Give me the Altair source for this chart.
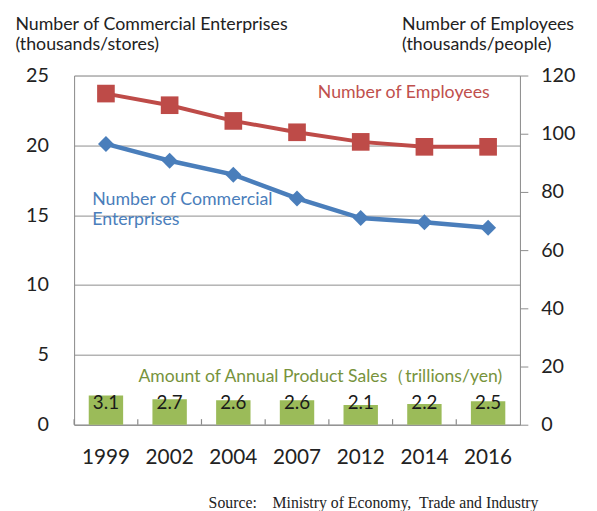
import altair as alt
import pandas as pd

years = ["1999", "2002", "2004", "2007", "2012", "2014", "2016"]
enterprises = [20.1, 18.9, 17.9, 16.2, 14.8, 14.5, 14.1]
employees = [113.8, 109.8, 104.4, 100.5, 97.2, 95.5, 95.5]
sales = [3.1, 2.7, 2.6, 2.6, 2.1, 2.2, 2.5]

left_ticks = [0, 5, 10, 15, 20, 25]
right_ticks = [0, 20, 40, 60, 80, 100, 120]

df = pd.DataFrame({"year": years, "ent": enterprises, "emp": employees, "sales": sales})

FONT = "Lato"
GRAY = "#8c8c8c"
BLUE = "#4a7ebb"
RED = "#be4b48"
GREEN = "#9bbb59"
W = 452
PAD_IN = 0.46
PAD_OUT = 0.23

xenc = alt.X("year:N", sort=years, title=None,
             scale=alt.Scale(paddingInner=PAD_IN, paddingOuter=PAD_OUT),
             axis=alt.Axis(labelAngle=0, ticks=False, domainColor=GRAY, labelFontSize=21,
                           labelFont=FONT, labelColor="#222", labelPadding=22, grid=False))

base = alt.Chart(df)
one = pd.DataFrame({"t": [0]})

# Left scale layer (enterprises)
left_axis = alt.Axis(values=left_ticks, grid=True, gridColor=GRAY, ticks=False,
                     domainColor=GRAY, labelFontSize=20, labelFont=FONT, labelColor="#222",
                     labelPadding=26,
                     title=["Number of Commercial Enterprises", "(thousands/stores)"],
                     titleAngle=0, titleAlign="left", titleBaseline="alphabetic",
                     titleX=-60, titleY=-47, titleFont=FONT, titleFontSize=18,
                     titleFontWeight="normal", titleColor="#222", titleLineHeight=21)
left_scale = alt.Scale(domain=[0, 25], nice=False)

blue_line = base.mark_line(color=BLUE, strokeWidth=4.5).encode(
    x=xenc, y=alt.Y("ent:Q", scale=left_scale, axis=left_axis))
blue_pts = base.mark_point(shape="diamond", filled=True, opacity=1, color=BLUE, size=260).encode(
    x=xenc, y=alt.Y("ent:Q", scale=left_scale, axis=left_axis))
# category-boundary tick marks (Excel style, pointing up from the axis)
step = W / len(years)
ticks = base.mark_rule(color="#8a8a8a", strokeWidth=1.2, xOffset=-PAD_OUT * step).encode(
    x=alt.X("year:N", sort=years, bandPosition=0),
    y=alt.YDatum(0, axis=left_axis), y2=alt.Y2Datum(0.4))
blue_txt = alt.Chart(one).mark_text(
    text=["Number of Commercial", "Enterprises"], align="left", baseline="alphabetic",
    font=FONT, fontSize=18, color=BLUE, lineHeight=21, dx=-14).encode(
    x=alt.XDatum("1999", type="nominal"), y=alt.YDatum(15.75, axis=left_axis))
green_txt = alt.Chart(one).mark_text(
    text="Amount of Annual Product Sales（trillions/yen)", align="left", baseline="alphabetic",
    font=FONT, fontSize=17.8, color="#77933c", dx=33).encode(
    x=alt.XDatum("1999", type="nominal"), y=alt.YDatum(3.04, axis=left_axis))

left_layer = alt.layer(blue_line, blue_pts, ticks, blue_txt, green_txt)

# Right scale layer (employees)
right_axis = alt.Axis(orient="right", values=right_ticks, grid=False, ticks=True, tickSize=8,
                      tickColor=GRAY, domainColor=GRAY, labelFontSize=20, labelFont=FONT,
                      labelColor="#222", labelPadding=13,
                      title=["Number of Employees", "(thousands/people)"],
                      titleAngle=0, titleAlign="left", titleBaseline="alphabetic",
                      titleX=-120, titleY=-47, titleFont=FONT, titleFontSize=18,
                      titleFontWeight="normal", titleColor="#222", titleLineHeight=21)
right_scale = alt.Scale(domain=[0, 120], nice=False)
red_line = base.mark_line(color=RED, strokeWidth=4).encode(
    x=xenc, y=alt.Y("emp:Q", scale=right_scale, axis=right_axis))
red_pts = base.mark_point(shape="square", filled=True, opacity=1, color=RED, size=320).encode(
    x=xenc, y=alt.Y("emp:Q", scale=right_scale, axis=right_axis))
red_txt = alt.Chart(one).mark_text(
    text="Number of Employees", align="left", baseline="middle",
    font=FONT, fontSize=18, color="#c0504d", dx=21).encode(
    x=alt.XDatum("2007", type="nominal"), y=alt.YDatum(114, axis=right_axis))
right_layer = alt.layer(red_line, red_pts, red_txt)

# Hidden scale layer (sales bars)
bars = base.mark_bar(color=GREEN).encode(
    x=xenc, y=alt.Y("sales:Q", scale=alt.Scale(domain=[0, 37], nice=False), axis=None))
bar_lbl = base.mark_text(baseline="alphabetic", font=FONT, fontSize=19, color="#1a1a1a").encode(
    x=xenc, y=alt.YDatum(1.65, axis=None), text=alt.Text("sales:Q", format=".1f"))
bar_layer = alt.layer(bars, bar_lbl)

chart = alt.layer(bar_layer, left_layer, right_layer).resolve_scale(y="independent").properties(
    width=W, height=354, autosize="none",
    padding={"left": 67, "top": 65, "right": 70, "bottom": 84},
    title=alt.TitleParams("Source:\u2003Ministry of Economy,\u2002Trade and Industry", orient="bottom",
                          anchor="end", font="Liberation Serif", fontSize=16, fontWeight="normal",
                          color="#222", offset=28, dx=-37),
).configure_view(stroke=None).configure(background="white")

chart.save("out.html", embed_options={"renderer": "svg", "actions": False})
